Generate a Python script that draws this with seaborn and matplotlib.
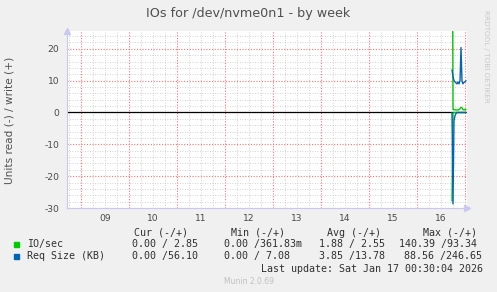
import numpy as np
import pandas as pd
import matplotlib
matplotlib.use("Agg")
import matplotlib.pyplot as plt
import matplotlib.transforms as mtransforms
from matplotlib.patches import Rectangle
import seaborn as sns

# ---------------- data ----------------
start_time = "2026-01-16 17:30"
n_points = 15
io_write = [93.34, 1.0, 0.9, 0.85, 0.8, 0.8, 0.8, 0.9, 1.2, 1.6, 1.5, 0.9, 0.8, 1.0, 1.0]
io_read = [-27.8, -0.3, 0, 0, 0, 0, 0, 0, 0, 0, 0, 0, 0, 0, 0]
req_write = [13.4, 11.3, 10.0, 9.6, 9.3, 9.0, 9.6, 9.0, 10.0, 20.4, 9.8, 9.0, 9.5, 9.6, 10.0]
req_read = [0, -28.7, -2.5, -1.0, -0.3, 0, 0, 0, 0, 0, 0, 0, 0, 0, 0]
day_labels = ["09", "10", "11", "12", "13", "14", "15", "16", ""]
day_ticks = [9, 10, 11, 12, 13, 14, 15, 16, 17]
y_ticks = [-30, -20, -10, 0, 10, 20]

legend_names = ["IO/sec", "Req Size (KB)"]
col_headers = ["Cur (-/+)", "Min (-/+)", "Avg (-/+)", "Max (-/+)"]
io_stats = ["0.00 / 2.85", "0.00 /361.83m", "1.88 / 2.55", "140.39 /93.34"]
req_stats = ["0.00 /56.10", "0.00 / 7.08", "3.85 /13.78", "88.56 /246.65"]
title = "IOs for /dev/nvme0n1 - by week"
ylabel = "Units read (-) / write (+)"
last_update = "Last update: Sat Jan 17 00:30:04 2026"

GREEN = "#00CC00"
BLUE = "#0066B3"

times = pd.date_range(start_time, periods=n_points, freq="30min")
xday = times.day + times.hour / 24 + times.minute / 1440

df = pd.DataFrame({"x": np.tile(xday, 4),
                   "y": io_write + io_read + req_write + req_read,
                   "s": ["iow"] * n_points + ["ior"] * n_points + ["rqw"] * n_points + ["rqr"] * n_points})

# ---------------- figure ----------------
W, H = 497, 292
sns.set_theme(style="white")
plt.rcParams["font.family"] = ["DejaVu Sans"]
plt.rcParams["axes.unicode_minus"] = False
fig = plt.figure(figsize=(W / 100, H / 100), dpi=100, facecolor="#F0F0F0")
L, R, T, B = 67, 467, 31, 208
ax = fig.add_axes([L / W, 1 - B / H, (R - L) / W, (B - T) / H])
ax.set_facecolor("white")

xmin = 9 + (L - 81) / 48
xmax = 9 + (R - 81) / 48
ax.set_xlim(xmin, xmax)
ax.set_ylim(-30, 25.6)

# grid
ax.set_xticks(day_ticks)
ax.set_xticks(np.arange(8.75, 17.05, 0.25), minor=True)
ax.set_yticks(y_ticks)
ax.set_yticks(np.arange(-30, 26, 2), minor=True)
ax.grid(which="minor", color="#c4c4c4", linestyle=(0, (1, 2)), linewidth=0.6)
ax.grid(which="major", color="#ff7070", linestyle=(0, (1, 1.5)), linewidth=0.8)
ax.set_axisbelow(True)
ax.tick_params(which="major", axis="both", length=3, width=0.7, color="#ff7070",
               labelsize=6.6, labelcolor="#484848")
ax.tick_params(which="major", axis="x", pad=1.5)
ax.tick_params(which="major", axis="y", pad=2.5)
ax.tick_params(which="minor", axis="both", length=2, width=0.5, color="#c0c0c0")
ax.set_xticklabels(day_labels)
offset = mtransforms.ScaledTranslation(24 / 100, 0, fig.dpi_scale_trans)
for lab in ax.get_xticklabels():
    lab.set_transform(lab.get_transform() + offset)

for sp in ["top", "right"]:
    ax.spines[sp].set_visible(False)
for sp in ["left", "bottom"]:
    ax.spines[sp].set_color("#c8c8f0")
    ax.spines[sp].set_linewidth(0.8)

ax.axhline(0, color="black", linewidth=0.9, zorder=2)

# data
pal = {"iow": GREEN, "ior": GREEN, "rqw": BLUE, "rqr": BLUE}
for key in ["iow", "ior", "rqw", "rqr"]:
    sub = df[df["s"] == key]
    sns.lineplot(data=sub, x="x", y="y", color=pal[key], linewidth=1.0, ax=ax,
                 legend=False, zorder=3, estimator=None, sort=False)
ax.set_xlabel("")
ax.set_ylabel("")

# axis arrows
ax.plot([0], [1.0], marker="^", markersize=4, color="#c8c8f0", transform=ax.transAxes, clip_on=False)
ax.plot([1.0], [0], marker=">", markersize=4, color="#c8c8f0", transform=ax.transAxes, clip_on=False)

# texts
fig.text(0.5, 1 - 13 / H, title, ha="center", va="center", fontsize=9.2, color="#505050")
fig.text(10 / W, 1 - 120 / H, ylabel, rotation=90, ha="center", va="center", fontsize=7.6, color="#505050")
fig.text(486 / W, 1 - 56 / H, "RRDTOOL / TOBI OETIKER", rotation=270, ha="center", va="center",
         fontsize=5.2, color="#c8c8c8")

mono = dict(family="DejaVu Sans Mono", fontsize=7.2, color="#303030", va="center", ha="left")
hdr_x = [134.3, 230.7, 326.7, 422.7]
for hx, hs in zip(hdr_x, col_headers):
    fig.text(hx / W, 1 - 232.7 / H, hs, **mono)

row_y = [244.5, 256.3]
fig.text(26.7 / W, 1 - row_y[0] / H, legend_names[0], **mono)
fig.text(26.7 / W, 1 - row_y[1] / H, legend_names[1], **mono)
fig.add_artist(Rectangle((14 / W, 1 - 247.3 / H), 5 / W, 5 / H, color=GREEN, transform=fig.transFigure))
fig.add_artist(Rectangle((14 / W, 1 - 259.3 / H), 5 / W, 5 / H, color=BLUE, transform=fig.transFigure))

io_x = [131.7, 224, 319.3, 398.7]
req_x = [131.7, 224, 319.3, 404]
for xx, s in zip(io_x, io_stats):
    fig.text(xx / W, 1 - row_y[0] / H, s, **mono)
for xx, s in zip(req_x, req_stats):
    fig.text(xx / W, 1 - row_y[1] / H, s, **mono)

fig.text(261 / W, 1 - 268.7 / H, last_update, **mono)
fig.text(248.7 / W, 1 - 281 / H, "Munin 2.0.69", ha="center", va="center", fontsize=5.5, color="#c0c0c0")

fig.savefig("out.png", dpi=100, facecolor=fig.get_facecolor())
